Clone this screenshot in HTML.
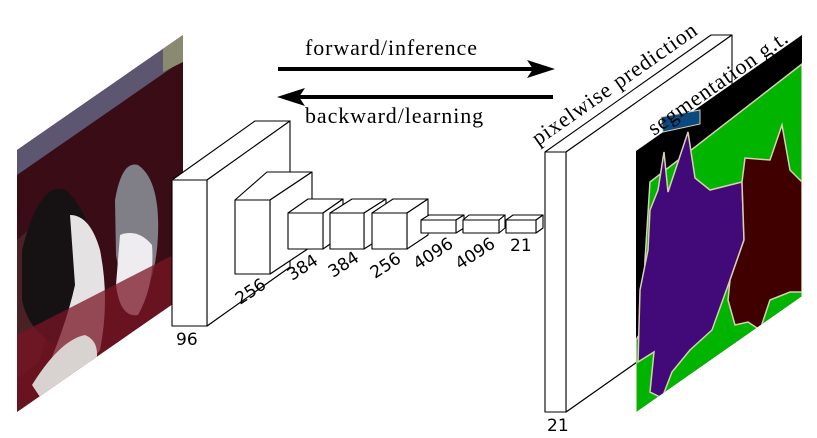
<!DOCTYPE html>
<html><head><meta charset="utf-8"><style>
html,body{margin:0;padding:0;background:#fff;width:817px;height:438px;overflow:hidden}
svg{display:block}
.n{font-family:"DejaVu Sans","Liberation Sans",sans-serif;font-size:17px;fill:#000}
.s{font-family:"Liberation Serif","DejaVu Serif",serif;font-size:22px;letter-spacing:0.9px;fill:#000}
</style></head><body>
<svg width="817" height="438" viewBox="0 0 817 438" xmlns="http://www.w3.org/2000/svg">
<defs>
<clipPath id="ph"><polygon points="17,150 183,35 183,297 17,412"/></clipPath>
<clipPath id="sg"><polygon points="636,151 802,35 802,296 636,412"/></clipPath>
</defs>
<!-- photo -->
<g clip-path="url(#ph)">
<rect x="0" y="0" width="200" height="420" fill="#3a0c16"/>
<polygon points="17,150 183,35 183,60 17,175" fill="#5c5670"/>
<polygon points="163,40 183,30 183,62 163,72" fill="#8a8a70"/>
<polygon points="17,240 40,220 55,300 40,360 17,380" fill="#4a2226"/>
<path d="M22,250 Q40,180 65,190 Q85,205 95,250 Q100,300 85,335 L55,345 Q28,330 22,300 Z" fill="#161214"/>
<path d="M70,215 Q90,215 100,250 Q110,300 100,350 L65,395 L40,385 Q65,330 75,285 Z" fill="#e4e2e2"/>
<path d="M115,200 Q122,160 138,165 Q160,180 158,235 Q156,280 140,300 Q122,292 116,255 Z" fill="#807f88"/>
<path d="M120,235 Q138,228 152,245 Q155,285 138,315 Q120,318 116,285 Z" fill="#eeecee"/>
<polygon points="17,335 183,250 183,297 17,412" fill="#7a1424" opacity="0.75"/>
<path d="M32,385 Q60,340 85,335 Q102,342 95,368 Q70,388 42,400 Z" fill="#d8d2d0"/>
</g>
<!-- arrows -->
<line x1="278" y1="69" x2="535" y2="69" stroke="#000" stroke-width="4"/>
<polygon points="555,69 527,60 533,69 527,78" fill="#000"/>
<line x1="298" y1="97" x2="553" y2="97" stroke="#000" stroke-width="4"/>
<polygon points="277,97 305,88 299,97 305,106" fill="#000"/>
<text class="s" x="305" y="55">forward/inference</text>
<text class="s" x="305" y="123">backward/learning</text>
<!-- boxes -->
<g fill="#fff" stroke="#000" stroke-width="1.1" stroke-linejoin="round">
<line x1="207" y1="326" x2="290" y2="267"/>
<polygon points="172,180 207,180 290,121 255,121"/>
<polygon points="207,180 290,121 290,267 207,326"/>
<rect x="172" y="180" width="35" height="146"/>
<line x1="270" y1="274" x2="312" y2="246"/>
<polygon points="235,200 270,200 312,172 267,172"/>
<polygon points="270,200 312,172 312,246 270,274"/>
<rect x="235" y="200" width="35" height="74"/>
<polygon points="288,213 323,213 343,199 308,199"/>
<polygon points="323,213 343,199 343,235 323,249"/>
<rect x="288" y="213" width="35" height="36"/>
<polygon points="330,213 364,213 386,199 352,199"/>
<polygon points="364,213 386,199 386,235 364,249"/>
<rect x="330" y="213" width="34" height="36"/>
<polygon points="372,213 407,213 428,199 393,199"/>
<polygon points="407,213 428,199 428,235 407,249"/>
<rect x="372" y="213" width="35" height="36"/>
<polygon points="421,220 456,220 464,215 429,215"/>
<polygon points="456,220 464,215 464,228 456,233"/>
<rect x="421" y="220" width="35" height="13"/>
<polygon points="463,220 499,220 505,215 469,215"/>
<polygon points="499,220 505,215 505,228 499,233"/>
<rect x="463" y="220" width="36" height="13"/>
<polygon points="506,220 536,220 543,215 513,215"/>
<polygon points="536,220 543,215 543,228 536,233"/>
<rect x="506" y="220" width="30" height="13"/>
<line x1="566" y1="412" x2="640" y2="360"/>
<polygon points="545,152 566,152 732,35 711,35"/>
<polygon points="566,152 732,35 732,295 566,412"/>
<rect x="545" y="152" width="21" height="260"/>
</g>
<!-- labels -->
<text class="n" x="176" y="345">96</text>
<text class="n" transform="translate(240,305) rotate(-33)">256</text>
<text class="n" transform="translate(292,281) rotate(-33)">384</text>
<text class="n" transform="translate(333,278) rotate(-33)">384</text>
<text class="n" transform="translate(375,279) rotate(-33)">256</text>
<text class="n" transform="translate(418,270) rotate(-33)">4096</text>
<text class="n" transform="translate(460,270) rotate(-33)">4096</text>
<text class="n" x="510" y="251">21</text>
<text class="n" x="547" y="431">21</text>
<text class="s" transform="translate(538,146) rotate(-35)">pixelwise prediction</text>
<!-- segmentation -->
<g clip-path="url(#sg)">
<rect x="630" y="30" width="180" height="390" fill="#000"/>
<polygon points="650,182 802,64 802,300 636,420 636,340 642,330 645,260" fill="#00b400" stroke="#d8d0b0" stroke-width="1.5"/>
<polygon points="664,152 668,192 688,132 695,178 710,190 742,182 744,240 730,280 712,330 690,350 672,372 662,398 650,392 654,352 638,362 640,290 648,250 650,210 658,190" fill="#420a78" stroke="#d8d0b0" stroke-width="1.5"/>
<polygon points="742,182 745,158 770,160 782,125 790,170 802,182 802,292 790,292 770,300 760,330 748,322 735,325 728,300 730,280 744,240" fill="#400000" stroke="#d8d0b0" stroke-width="1.5"/>
</g>
<polygon points="661,117 700,110 700,124 663,132" fill="#0a4a80" stroke="#d8d0b0" stroke-width="1"/>
<text class="s" transform="translate(654,136) rotate(-35)">segmentation g.t.</text>
</svg>
</body></html>
